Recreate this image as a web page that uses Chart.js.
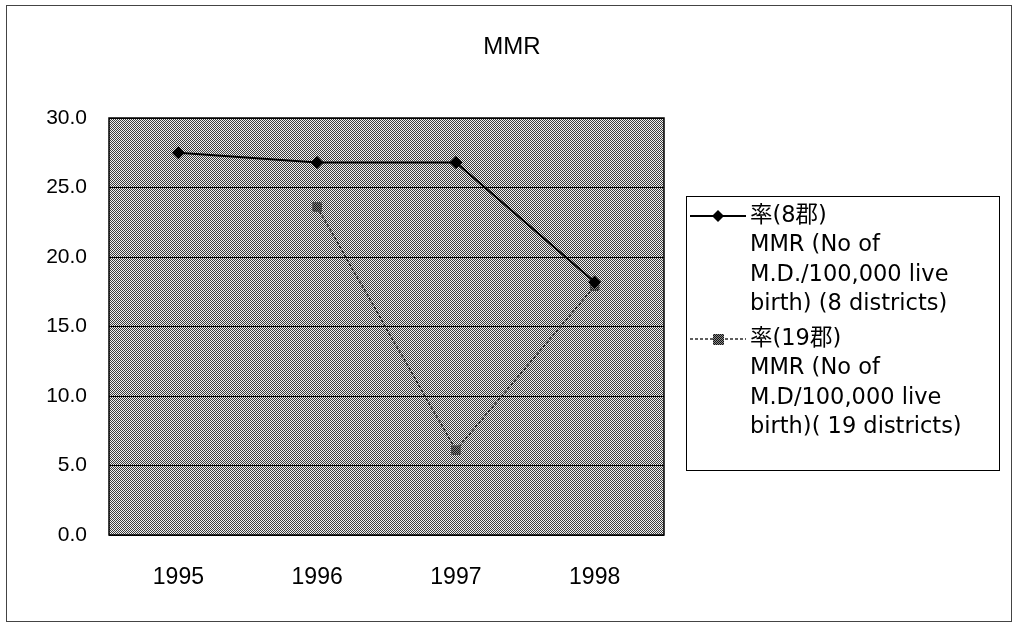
<!DOCTYPE html>
<html>
<head>
    <title>MMR</title>
    <style>
        body { margin: 0; background: #fff; }
        canvas { display: block; }
    </style>
    <script src="https://cdn.jsdelivr.net/npm/chart.js"></script>
</head>
<body>
<canvas id="mmrChart" width="1016" height="623"></canvas>
<script>
// chart data
const years = ['1995', '1996', '1997', '1998'];
const rate8 = [27.5, 26.8, 26.8, 18.2];
const rate19 = [null, 23.6, 6.1, 17.9];
const yTicks = [0, 5, 10, 15, 20, 25, 30];
const chartTitle = 'MMR';
const legend8 = ['率(8郡)', 'MMR (No of', 'M.D./100,000 live', 'birth) (8 districts)'];
const legend19 = ['率(19郡)', 'MMR (No of', 'M.D/100,000 live', 'birth)( 19 districts)'];

// dithered grey like the old print
function checker(dark, light) {
    const c = document.createElement('canvas');
    c.width = 2; c.height = 2;
    const g = c.getContext('2d');
    g.fillStyle = light; g.fillRect(0, 0, 2, 2);
    g.fillStyle = dark; g.fillRect(0, 0, 1, 1); g.fillRect(1, 1, 1, 1);
    return g.createPattern(c, 'repeat');
}
const ctx = document.getElementById('mmrChart').getContext('2d');
const plotFill = checker('#3c3c3c', '#f0f0f0');
const markFill = checker('#111', '#8a8a8a');

function diamond(g, x, y, r) {
    g.beginPath();
    g.moveTo(x, y - r); g.lineTo(x + r, y); g.lineTo(x, y + r); g.lineTo(x - r, y);
    g.closePath(); g.fill();
}

const decor = {
    id: 'decor',
    beforeDraw(chart) {
        const a = chart.chartArea, g = chart.ctx;
        g.save();
        g.fillStyle = plotFill;
        g.fillRect(a.left, a.top, a.right - a.left, a.bottom - a.top);
        g.restore();
    },
    afterDraw(chart) {
        const a = chart.chartArea, g = chart.ctx;
        g.save();
        // plot frame
        g.strokeStyle = '#000'; g.lineWidth = 1.5;
        g.strokeRect(a.left, a.top, a.right - a.left, a.bottom - a.top);
        // outer frame
        g.strokeStyle = '#444'; g.lineWidth = 1;
        g.strokeRect(6.5, 5.5, 1005, 616);
        // title
        g.fillStyle = '#000';
        g.font = '24px "Liberation Sans", Arial, sans-serif';
        g.textAlign = 'center'; g.textBaseline = 'middle';
        g.fillText(chartTitle, 512, 47);
        // legend
        g.strokeStyle = '#000'; g.lineWidth = 1;
        g.strokeRect(686.5, 196.5, 313, 274);
        g.font = '22.5px "DejaVu Sans", "Noto Sans CJK JP", sans-serif';
        g.textAlign = 'left';
        const lh = 29.5;
        legend8.forEach((t, i) => g.fillText(t, 750, 216 + i * lh));
        legend19.forEach((t, i) => g.fillText(t, 750, 339 + i * lh));
        g.strokeStyle = '#000'; g.lineWidth = 2;
        g.beginPath(); g.moveTo(690, 216); g.lineTo(746, 216); g.stroke();
        g.fillStyle = '#000';
        diamond(g, 718, 216, 6);
        g.strokeStyle = '#2a2a2a'; g.lineWidth = 1.5; g.setLineDash([3, 2]);
        g.beginPath(); g.moveTo(690, 339); g.lineTo(746, 339); g.stroke();
        g.setLineDash([]);
        g.fillStyle = markFill;
        g.fillRect(713, 334, 11, 11);
        g.restore();
    }
};

new Chart(ctx, {
    type: 'line',
    data: {
        labels: years,
        datasets: [{
            label: legend8.join(' '),
            data: rate8,
            borderColor: '#000',
            backgroundColor: '#000',
            borderWidth: 2,
            pointStyle: 'rectRot',
            pointRadius: 6.5,
            pointBorderWidth: 0,
            tension: 0
        }, {
            label: legend19.join(' '),
            data: rate19,
            borderColor: '#2a2a2a',
            backgroundColor: markFill,
            borderWidth: 1.5,
            borderDash: [3, 2],
            pointStyle: 'rect',
            pointRadius: 6,
            pointBorderColor: '#444',
            pointBorderWidth: 1,
            tension: 0
        }]
    },
    options: {
        responsive: false,
        animation: false,
        layout: { padding: { left: 0, right: 352, top: 118, bottom: 0 } },
        plugins: {
            legend: { display: false },
            title: { display: false },
            tooltip: { enabled: false }
        },
        scales: {
            x: {
                offset: true,
                grid: { display: false },
                border: { display: false },
                ticks: {
                    color: '#000',
                    padding: 21,
                    font: { family: '"Liberation Sans", Arial, sans-serif', size: 23 }
                },
                afterFit(scale) { scale.height = 88; }
            },
            y: {
                min: 0,
                max: 30,
                afterBuildTicks(scale) { scale.ticks = yTicks.map(v => ({ value: v })); },
                grid: { color: '#000', lineWidth: 1, drawTicks: false },
                border: { display: false },
                ticks: {
                    color: '#000',
                    padding: 22,
                    font: { family: '"Liberation Sans", Arial, sans-serif', size: 21 },
                    callback: v => v.toFixed(1)
                },
                afterFit(scale) { scale.width = 109; }
            }
        }
    },
    plugins: [decor]
});
</script>
</body>
</html>
